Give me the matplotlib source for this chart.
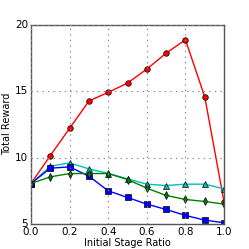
import numpy as np
import matplotlib
matplotlib.use("Agg")
import matplotlib.pyplot as plt

DPI = 100
FIGWIDTH = 2.49
FIGHEIGHT = 2.49
LABEL_SIZE = 7

# values
ratio = [0.0, 0.1, 0.2, 0.3, 0.4, 0.5, 0.6, 0.7, 0.8, 0.9, 1.0]
reward_red = [8.05, 10.15, 12.2, 14.25, 14.9, 15.6, 16.65, 17.85, 18.85, 14.55, 6.65]
reward_cyan = [8.05, 9.35, 9.6, 9.15, 8.8, 8.4, 8.0, 7.9, 8.0, 8.0, 7.65]
reward_blue = [8.05, 9.2, 9.3, 8.6, 7.5, 7.0, 6.5, 6.1, 5.65, 5.3, 5.1]
reward_green = [8.05, 8.55, 8.8, 8.8, 8.8, 8.35, 7.7, 7.15, 6.85, 6.7, 6.5]
xticks = [0.0, 0.2, 0.4, 0.6, 0.8, 1.0]
yticks = [5, 10, 15, 20]

plt.style.use("classic")
fig = plt.figure(figsize=(FIGWIDTH, FIGHEIGHT), dpi=DPI)
ax = fig.add_axes([0.1245, 0.1, 0.7755, 0.8016])

ms = 4
ax.plot(ratio, reward_red, "r-o", ms=ms, mew=0.5, lw=1)
ax.plot(ratio, reward_cyan, "c-^", ms=ms, mew=0.5, lw=1)
ax.plot(ratio, reward_blue, "b-s", ms=ms, mew=0.5, lw=1)
ax.plot(ratio, reward_green, "g-d", ms=ms, mew=0.5, lw=1)

ax.set_xlim(0, 1)
ax.set_ylim(5, 20)
ax.set_xticks(xticks)
ax.set_yticks(yticks)
ax.grid(True, color="#888888", linestyle=":", lw=0.8)
for s in ax.spines.values():
    s.set_color("#555555")
ax.tick_params(labelsize=LABEL_SIZE + 0.5, length=0, pad=2)
ax.set_xlabel("Initial Stage Ratio", fontsize=LABEL_SIZE, labelpad=1)
ax.set_ylabel("Total Reward", fontsize=LABEL_SIZE, labelpad=2)

fig.savefig("out.png", dpi=DPI)
